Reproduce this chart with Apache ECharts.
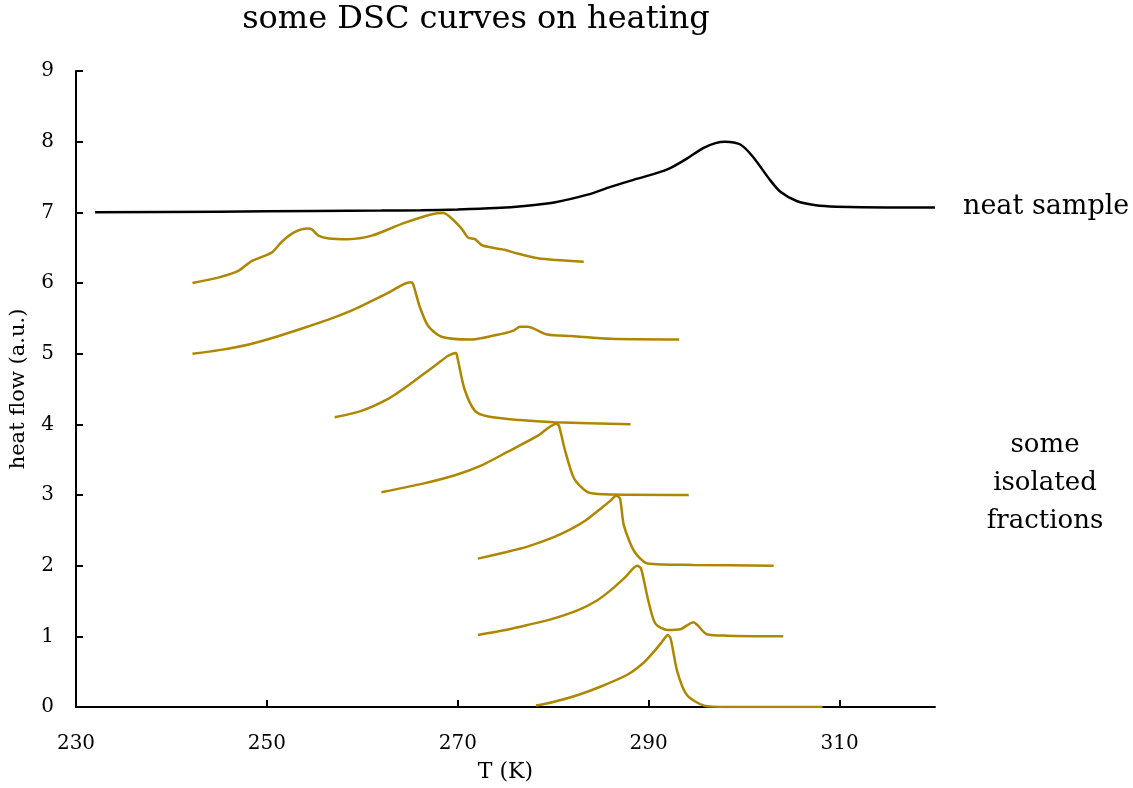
<!DOCTYPE html>
<html>
<head>
<meta charset="utf-8">
<script src="https://cdn.jsdelivr.net/npm/echarts@6/dist/echarts.min.js"></script>
<style>
  html, body { margin: 0; padding: 0; background: #fff; }
  #chart { width: 1133px; height: 788px; }
</style>
</head>
<body>
<div id="chart"></div>
<script>
// Temperature ticks (K) and heat-flow ticks
const xTicks = [230, 250, 270, 290, 310];
const yTicks = [0, 1, 2, 3, 4, 5, 6, 7, 8, 9];

// Neat sample trace: [T, heat flow]
const neatSample = [
  [232.0, 7.00], [245, 7.01], [255, 7.02], [262, 7.025], [266.2, 7.03], [270, 7.04],
  [274, 7.06], [277, 7.09], [280.1, 7.14], [283.6, 7.25], [286, 7.36], [288.4, 7.46],
  [290.5, 7.54], [292.3, 7.63], [294, 7.76], [295.7, 7.91], [297, 7.98], [298.0, 8.00], [299.6, 7.96],
  [300.9, 7.79], [302.7, 7.46], [303.8, 7.29], [305.5, 7.16], [307.5, 7.10], [309.7, 7.08], [315, 7.07], [320, 7.07]
];

// Isolated fractions, each offset by one unit
const fraction1 = [
  [242.2, 6.00], [245, 6.08], [247.0, 6.17], [248.4, 6.31], [250.5, 6.43], [251.6, 6.59],
  [252.9, 6.72], [254.3, 6.77], [254.7, 6.76], [255.4, 6.67], [256.5, 6.63], [258.5, 6.62],
  [261.0, 6.67], [264.4, 6.85], [267.2, 6.97], [268.5, 6.99], [269.3, 6.92], [270.4, 6.77],
  [270.7, 6.71], [271.1, 6.64], [271.8, 6.62], [272.6, 6.53], [274.9, 6.47], [275.9, 6.43],
  [278.4, 6.35], [283.2, 6.30]
];
const fraction2 = [
  [242.2, 5.00], [245, 5.05], [248.1, 5.13], [251, 5.24], [254.0, 5.37], [257, 5.51], [259.2, 5.63],
  [262.7, 5.86], [265.0, 6.01], [265.3, 5.99], [266.0, 5.67], [266.9, 5.39], [268.3, 5.24], [271.4, 5.20],
  [274.9, 5.29], [275.9, 5.33], [276.5, 5.38], [277.3, 5.38], [279.4, 5.27], [281.9, 5.25],
  [286.0, 5.21], [293.2, 5.20]
];
const fraction3 = [
  [257.1, 4.10], [259.9, 4.19], [262.7, 4.36], [264.5, 4.52], [266.2, 4.69], [267.8, 4.85],
  [269.0, 4.97], [269.8, 5.01], [270.0, 4.92], [270.7, 4.50], [271.8, 4.19], [273.2, 4.11],
  [276.5, 4.06], [280.1, 4.03], [288.1, 4.00]
];
const fraction4 = [
  [262.0, 3.04], [266, 3.15], [269.7, 3.28], [272.5, 3.42], [275.2, 3.61], [278.4, 3.84],
  [280.3, 4.01], [280.6, 3.98], [281.2, 3.65], [282.2, 3.23], [283.6, 3.04], [285.3, 3.01], [294.2, 3.00]
];
const fraction5 = [
  [272.1, 2.10], [275, 2.19], [277.3, 2.27], [280, 2.40], [281.9, 2.52], [283.5, 2.65],
  [285.0, 2.81], [286.0, 2.92], [286.6, 2.99], [287.0, 2.95], [287.4, 2.57], [288.5, 2.20],
  [289.9, 2.03], [294.7, 2.01], [303.1, 2.00]
];
const fraction6 = [
  [272.1, 1.02], [275, 1.09], [277.3, 1.16], [280, 1.25], [282.6, 1.37], [284.5, 1.50],
  [286.0, 1.65], [287.5, 1.83], [288.8, 2.00], [289.2, 1.96], [289.9, 1.54], [290.7, 1.18],
  [292.0, 1.09], [293.3, 1.10], [294.7, 1.20], [295.1, 1.16], [296.1, 1.03], [298.2, 1.01], [304.1, 1.00]
];
const fraction7 = [
  [278.2, 0.02], [280, 0.07], [282.6, 0.17], [285, 0.29], [287.8, 0.46], [289.5, 0.63],
  [290.6, 0.79], [291.5, 0.94], [292.0, 1.02], [292.3, 0.97], [293.0, 0.50], [294.0, 0.17],
  [295.8, 0.02], [298.2, 0.00], [308.2, 0.00]
];
const fractions = [fraction1, fraction2, fraction3, fraction4, fraction5, fraction6, fraction7];

const FONT = 'DejaVu Serif';
const GOLD = '#AE8700';

const chart = echarts.init(document.getElementById('chart'), null, { renderer: 'canvas' });

const lineBase = { type: 'line', showSymbol: false, smooth: 0.25 };
const series = [Object.assign({}, lineBase, {
  data: neatSample, lineStyle: { color: '#000', width: 2.5 }, z: 3
})].concat(fractions.map(d => Object.assign({}, lineBase, {
  data: d, lineStyle: { color: GOLD, width: 2.5 }, z: 2
})));

chart.setOption({
  animation: false,
  backgroundColor: '#fff',
  title: {
    text: 'some DSC curves on heating',
    left: 471, top: -1, textAlign: 'center',
    textStyle: { fontFamily: FONT, fontSize: 32, fontWeight: 'normal', color: '#000' }
  },
  grid: { left: 73, right: 198, top: 71, bottom: 79 },
  xAxis: {
    type: 'value', min: 230, max: 320, interval: 20,
    name: 'T (K)', nameLocation: 'middle', nameGap: 54,
    nameTextStyle: { fontFamily: FONT, fontSize: 22, color: '#000' },
    axisLine: { lineStyle: { color: '#000', width: 2 } },
    axisTick: { inside: true, length: 7, customValues: xTicks, lineStyle: { color: '#000', width: 2 } },
    axisLabel: { customValues: xTicks, margin: 27, fontFamily: FONT, fontSize: 20, color: '#000' },
    splitLine: { show: false }
  },
  yAxis: {
    type: 'value', min: 0, max: 9, interval: 1,
    name: 'heat flow (a.u.)', nameLocation: 'middle', nameGap: 47, nameRotate: 90,
    nameTextStyle: { fontFamily: FONT, fontSize: 21, color: '#000' },
    axisLine: { show: true, lineStyle: { color: '#000', width: 2 } },
    axisTick: { show: true, inside: true, length: 7, customValues: yTicks, lineStyle: { color: '#000', width: 2 } },
    axisLabel: { customValues: yTicks, margin: 22, fontFamily: FONT, fontSize: 20, color: '#000' },
    splitLine: { show: false }
  },
  graphic: [
    {
      type: 'text', x: 963, y: 207,
      style: { text: 'neat sample', font: '27px "' + FONT + '"', fill: '#000', verticalAlign: 'middle' }
    },
    {
      type: 'text', x: 1045, y: 483,
      style: {
        text: 'some\nisolated\nfractions', font: '26px "' + FONT + '"', fill: '#000',
        align: 'center', verticalAlign: 'middle', lineHeight: 38
      }
    }
  ],
  series: series
});
</script>
</body>
</html>
